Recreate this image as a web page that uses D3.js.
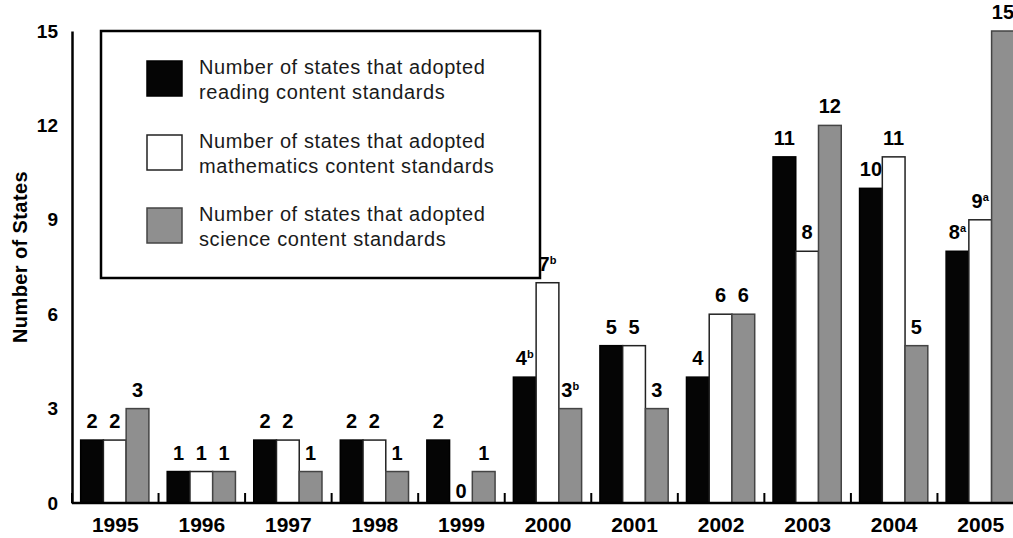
<!DOCTYPE html>
<html>
<head>
<meta charset="utf-8">
<script src="https://cdn.jsdelivr.net/npm/d3@7"></script>
<style>
  body { margin: 0; background: #fff; }
  svg text { font-family: "Liberation Sans", Arial, sans-serif; }
</style>
</head>
<body>
<div id="chart"></div>
<script>
// years on the x axis
var years = ["1995", "1996", "1997", "1998", "1999", "2000", "2001", "2002", "2003", "2004", "2005"];
var readingValues = [2, 1, 2, 2, 2, 4, 5, 4, 11, 10, 8];
var mathValues = [2, 1, 2, 2, 0, 7, 5, 6, 8, 11, 9];
var scienceValues = [3, 1, 1, 1, 1, 3, 3, 6, 12, 5, 15];
// footnote letters shown after some values
var readingNotes = ["", "", "", "", "", "b", "", "", "", "", "a"];
var mathNotes = ["", "", "", "", "", "b", "", "", "", "", "a"];
var scienceNotes = ["", "", "", "", "", "b", "", "", "", "", ""];
var yTicks = [0, 3, 6, 9, 12, 15];
var seriesNames = [
  ["Number of states that adopted", "reading content standards"],
  ["Number of states that adopted", "mathematics content standards"],
  ["Number of states that adopted", "science content standards"]
];

var svgWidth = 1013;
var svgHeight = 538;

var svg = d3.select("#chart")
  .append("svg")
  .attr("width", svgWidth)
  .attr("height", svgHeight);

var series = [
  { key: "reading", values: readingValues, notes: readingNotes, fill: "#050505", stroke: "#000" },
  { key: "math", values: mathValues, notes: mathNotes, fill: "#ffffff", stroke: "#222" },
  { key: "science", values: scienceValues, notes: scienceNotes, fill: "#8f8f8f", stroke: "#444" }
];

var x0 = d3.scaleBand()
  .domain(years)
  .range([72, 1024])
  .paddingInner(0.2)
  .paddingOuter(0.1);

var x1 = d3.scaleBand()
  .domain(series.map(d => d.key))
  .range([0, x0.bandwidth() - 1]);

var y = d3.scaleLinear()
  .domain([0, 15])
  .range([503, 31]);

// bars
series.forEach(function(s) {
  var g = svg.append("g");
  g.selectAll("rect")
    .data(years)
    .enter()
    .append("rect")
    .attr("x", d => x0(d) + x1(s.key))
    .attr("y", (d, i) => y(s.values[i]))
    .attr("width", x1.bandwidth())
    .attr("height", (d, i) => y(0) - y(s.values[i]))
    .attr("fill", s.fill)
    .attr("stroke", s.stroke)
    .attr("stroke-width", 1.5);

  var labels = g.selectAll("text")
    .data(years)
    .enter()
    .append("text")
    .attr("x", d => x0(d) + x1(s.key) + x1.bandwidth() / 2)
    .attr("y", (d, i) => y(s.values[i]) - (s.values[i] === 0 ? 5 : 12))
    .attr("text-anchor", "middle")
    .attr("font-size", 20)
    .attr("font-weight", "bold")
    .attr("fill", "#000");
  labels.append("tspan").text((d, i) => s.values[i]);
  labels.append("tspan")
    .attr("font-size", 11)
    .attr("dy", -7)
    .text((d, i) => s.notes[i]);
});

// small tick marks between groups
var stepX = x0.step();
svg.append("g")
  .selectAll("line")
  .data(years)
  .enter()
  .append("line")
  .attr("x1", d => x0(d) - stepX * 0.1)
  .attr("x2", d => x0(d) - stepX * 0.1)
  .attr("y1", y(0))
  .attr("y2", y(0) - 10)
  .attr("stroke", "#000")
  .attr("stroke-width", 2);

// axes
var xAxis = d3.axisBottom(x0).tickSize(0).tickPadding(14);
var gx = svg.append("g")
  .attr("transform", `translate(0, ${y(0)})`)
  .call(xAxis);
gx.select(".domain").attr("stroke", "#000").attr("stroke-width", 2.5)
  .attr("d", `M72,0H1013`);
gx.selectAll("text")
  .attr("font-size", 21)
  .attr("font-weight", "bold")
  .attr("font-family", "Liberation Sans, Arial, sans-serif")
  .attr("fill", "#000");

var yAxis = d3.axisLeft(y).tickValues(yTicks).tickSize(0).tickPadding(14);
var gy = svg.append("g")
  .attr("transform", "translate(72, 0)")
  .call(yAxis);
gy.select(".domain").attr("stroke", "#000").attr("stroke-width", 2.5);
gy.selectAll("text")
  .attr("font-size", 19)
  .attr("font-weight", "bold")
  .attr("font-family", "Liberation Sans, Arial, sans-serif")
  .attr("fill", "#000");

svg.append("text")
  .attr("transform", "translate(27, 257) rotate(-90)")
  .attr("text-anchor", "middle")
  .attr("font-size", 20)
  .attr("font-weight", "bold")
  .attr("letter-spacing", 0.4)
  .text("Number of States");

// legend
var legend = svg.append("g");
legend.append("rect")
  .attr("x", 101)
  .attr("y", 31)
  .attr("width", 439)
  .attr("height", 247)
  .attr("fill", "#fff")
  .attr("stroke", "#000")
  .attr("stroke-width", 2.5);

var legendRows = [61, 135, 208];
series.forEach(function(s, i) {
  legend.append("rect")
    .attr("x", 147)
    .attr("y", legendRows[i])
    .attr("width", 35)
    .attr("height", 35)
    .attr("fill", s.fill)
    .attr("stroke", s.stroke)
    .attr("stroke-width", 1.5);
  var t = legend.append("text")
    .attr("x", 199)
    .attr("y", legendRows[i] + 13)
    .attr("font-size", 20)
    .attr("letter-spacing", 0.6)
    .attr("fill", "#1a1a1a");
  t.selectAll("tspan")
    .data(seriesNames[i])
    .enter()
    .append("tspan")
    .attr("x", 199)
    .attr("dy", (d, j) => j === 0 ? 0 : 25)
    .text(d => d);
});
</script>
</body>
</html>
